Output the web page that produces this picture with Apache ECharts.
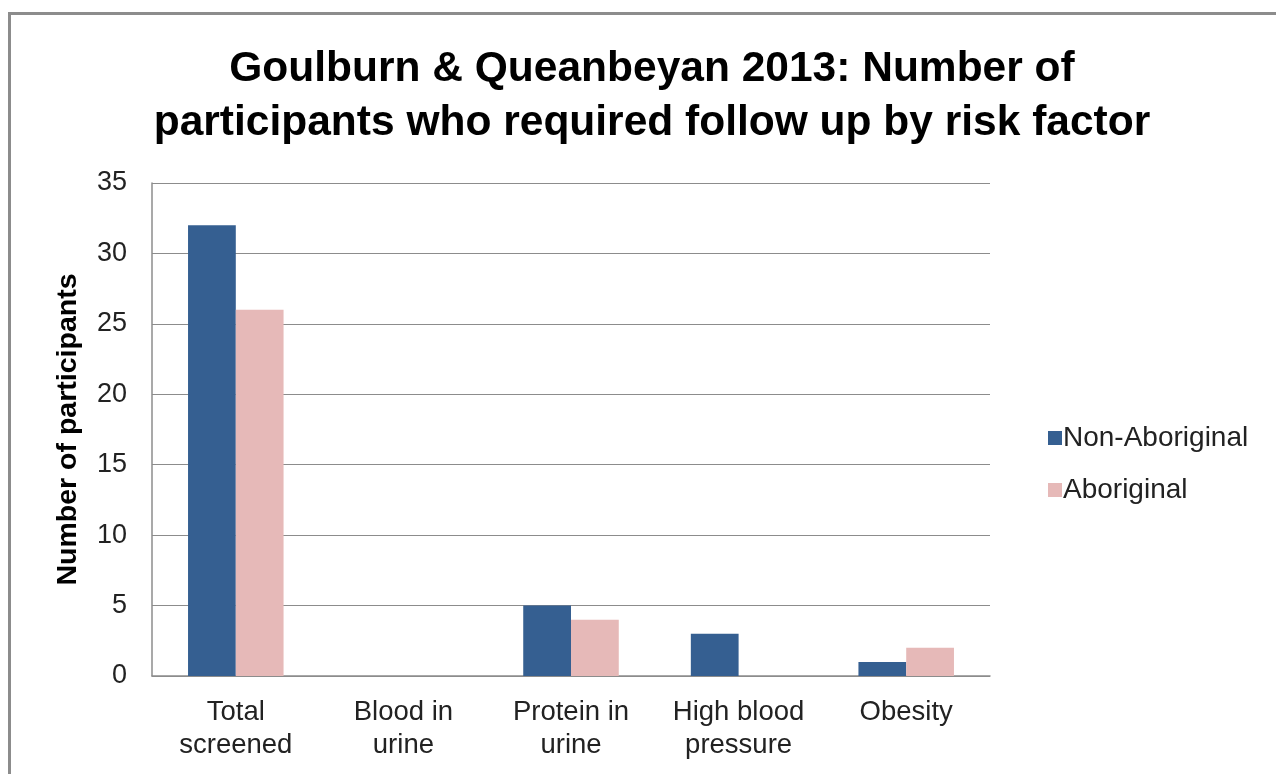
<!DOCTYPE html>
<html><head><meta charset="utf-8">
<script src="https://cdn.jsdelivr.net/npm/echarts@6/dist/echarts.min.js"></script>
<style>html,body{margin:0;padding:0;background:#fff;}#c{width:1276px;height:774px;}
#frame{position:absolute;left:8px;top:12px;width:1400px;height:900px;border:3px solid #8c8c8c;box-sizing:border-box;pointer-events:none;}</style>
</head><body><div id="c"></div><div id="frame"></div>
<script>
const categories = ['Total\nscreened', 'Blood in\nurine', 'Protein in\nurine', 'High blood\npressure', 'Obesity'];
const nonAboriginal = [32, 0, 5, 3, 1];
const aboriginal = [26, 0, 4, 0, 2];
const yTicks = {min: 0, max: 35, interval: 5};
const FONT = '"Liberation Sans", Arial, sans-serif';
const chart = echarts.init(document.getElementById('c'));
chart.setOption({
  animation: false,
  title: {
    text: 'Goulburn & Queanbeyan 2013: Number of\nparticipants who required follow up by risk factor',
    left: 647, top: 37, textAlign: 'center',
    textStyle: {fontFamily: FONT, fontSize: 42.5, fontWeight: 'bold', color: '#000', lineHeight: 54}
  },
  legend: {
    orient: 'vertical', left: 1043, top: 419, itemWidth: 14, itemHeight: 14, itemGap: 24,
    icon: 'rect',
    textStyle: {fontFamily: FONT, fontSize: 28, color: '#222', lineHeight: 28, padding: [0,0,0,-4]},
    data: ['Non-Aboriginal', 'Aboriginal']
  },
  grid: {left: 152, right: 286, top: 183, bottom: 98, containLabel: false},
  xAxis: {
    type: 'category', data: categories,
    axisLine: {lineStyle: {color: '#8c8c8c', width: 1.5}},
    axisTick: {show: false},
    axisLabel: {fontFamily: FONT, fontSize: 27.5, color: '#222', lineHeight: 33, margin: 20, interval: 0}
  },
  yAxis: {
    type: 'value', min: yTicks.min, max: yTicks.max, interval: yTicks.interval,
    name: 'Number of participants', nameLocation: 'middle', nameGap: 69,
    nameTextStyle: {fontFamily: FONT, fontSize: 28.5, fontWeight: 'bold', color: '#000'},
    axisLine: {show: true, lineStyle: {color: '#8c8c8c', width: 1.5}},
    axisTick: {show: false},
    splitLine: {lineStyle: {color: '#8c8c8c', width: 1.2}},
    axisLabel: {fontFamily: FONT, fontSize: 27, color: '#222', margin: 25}
  },
  series: [
    {name: 'Non-Aboriginal', type: 'bar', data: nonAboriginal, barGap: '0%', barCategoryGap: '43%',
     itemStyle: {color: '#355f91'}},
    {name: 'Aboriginal', type: 'bar', data: aboriginal, barGap: '0%', barCategoryGap: '43%',
     itemStyle: {color: '#e6b9b8'}}
  ]
});
</script></body></html>
